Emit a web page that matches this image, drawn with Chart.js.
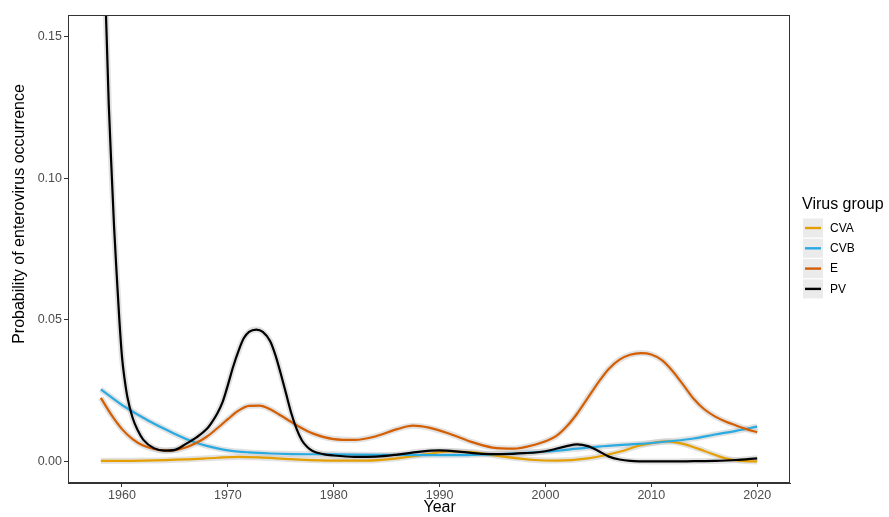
<!DOCTYPE html>
<html><head><meta charset="utf-8">
<script src="https://cdn.jsdelivr.net/npm/chart.js@4"></script>
<style>html,body{margin:0;padding:0;background:#fff}canvas{display:block}</style>
</head><body>
<canvas id="c" width="889" height="517"></canvas>
<script>
// ---- data ----
const xTicks = [1960, 1970, 1980, 1990, 2000, 2010, 2020];
const yTicks = [0, 0.05, 0.10, 0.15];
const seriesNames = ['CVA', 'CVB', 'E', 'PV'];

const cvaYears  = [1958, 1962, 1966, 1969, 1971, 1973, 1976, 1980, 1983, 1986, 1989, 1991, 1993, 1996, 1999, 2001, 2004, 2007, 2009, 2011.5, 2013, 2015, 2017, 2018.5, 2020];
const cvaValues = [0.0003, 0.0004, 0.0008, 0.0014, 0.0017, 0.0015, 0.0009, 0.0004, 0.0004, 0.0012, 0.0028, 0.0036, 0.0034, 0.0018, 0.0006, 0.0004, 0.0012, 0.0035, 0.0058, 0.0072, 0.0063, 0.0038, 0.0012, 0.0003, 0.0001];

const cvbYears  = [1958, 1960, 1961, 1962, 1963, 1964, 1965, 1966, 1967, 1968, 1969, 1970, 1972, 1974, 1976, 1980, 1985, 1990, 1995, 2000, 2003, 2005, 2008, 2010, 2012, 2014, 2016, 2018, 2020];
const cvbValues = [0.0255, 0.0200, 0.0177, 0.0155, 0.0135, 0.0116, 0.0098, 0.0081, 0.0067, 0.0056, 0.0047, 0.0040, 0.0033, 0.0029, 0.0027, 0.0026, 0.0024, 0.0023, 0.0026, 0.0036, 0.0046, 0.0053, 0.0061, 0.0066, 0.0073, 0.0082, 0.0096, 0.0109, 0.0124];

const eYears  = [1958, 1959, 1960, 1961, 1962, 1963, 1964, 1965, 1966, 1967, 1968, 1969, 1970, 1971, 1972, 1973, 1974, 1975, 1976, 1977, 1978, 1980, 1982, 1984, 1986, 1987.5, 1989, 1991, 1993, 1995, 1997, 1999, 2000, 2001, 2002, 2003, 2004, 2005, 2006, 2007, 2008, 2009, 2010, 2011, 2012, 2013, 2014, 2015, 2016, 2017, 2018, 2019, 2020];
const eValues = [0.0225, 0.0165, 0.0115, 0.0080, 0.0057, 0.0045, 0.0040, 0.0041, 0.0050, 0.0066, 0.0088, 0.0118, 0.0150, 0.0180, 0.0197, 0.0198, 0.0185, 0.0163, 0.0140, 0.0118, 0.0100, 0.0080, 0.0077, 0.0090, 0.0115, 0.0127, 0.0120, 0.0098, 0.0070, 0.0050, 0.0046, 0.0060, 0.0072, 0.0090, 0.0124, 0.0170, 0.0225, 0.0280, 0.0328, 0.0360, 0.0377, 0.0383, 0.0378, 0.0358, 0.0320, 0.0272, 0.0222, 0.0185, 0.0160, 0.0142, 0.0128, 0.0115, 0.0104];

const pvYears  = [1958, 1958.5, 1958.75, 1959, 1959.25, 1959.5, 1959.75, 1960, 1960.25, 1960.5, 1961, 1961.5, 1962, 1963, 1964, 1965, 1966, 1967, 1968, 1968.5, 1969, 1969.5, 1970, 1970.5, 1971, 1971.5, 1972, 1972.7, 1973.3, 1974, 1974.5, 1975, 1975.5, 1976, 1976.5, 1977, 1977.5, 1978, 1979, 1980, 1982, 1984, 1986, 1988, 1990, 1992, 1994, 1996, 1998, 2000, 2002, 2003, 2004, 2005, 2006, 2007, 2008, 2010, 2012, 2014, 2016, 2018, 2020];
const pvValues = [0.235, 0.156, 0.126, 0.104, 0.083, 0.066, 0.050, 0.037, 0.029, 0.023, 0.0155, 0.0110, 0.0078, 0.0048, 0.0039, 0.0042, 0.0062, 0.0085, 0.0115, 0.0140, 0.0170, 0.0210, 0.0270, 0.0335, 0.0390, 0.0435, 0.0458, 0.0466, 0.0458, 0.0425, 0.0375, 0.0310, 0.0240, 0.0170, 0.0115, 0.0075, 0.0052, 0.0038, 0.0027, 0.0022, 0.0017, 0.0018, 0.0025, 0.0035, 0.0040, 0.0035, 0.0028, 0.0027, 0.0030, 0.0037, 0.0055, 0.0061, 0.0055, 0.0038, 0.0018, 0.0008, 0.0003, 0.0001, 0.0001, 0.0002, 0.0003, 0.0006, 0.0012];

// ---- styling ----
const colors = {CVA: '#E69F00', CVB: '#29ABE2', E: '#D55E00', PV: '#000000'};
const FONT = '"Liberation Sans", Arial, Helvetica, sans-serif';

function pts(xs, ys) { return xs.map((x, i) => ({x: x, y: ys[i]})); }
const seriesData = {
  CVA: pts(cvaYears, cvaValues),
  CVB: pts(cvbYears, cvbValues),
  E: pts(eYears, eValues),
  PV: pts(pvYears, pvValues)
};

const datasets = [];
const drawOrder = {PV: 1, E: 2, CVB: 3, CVA: 4};
seriesNames.forEach(name => {
  datasets.push({
    label: name + ' band', data: seriesData[name], borderColor: 'rgba(190,190,190,0.45)',
    borderWidth: 6, pointRadius: 0, cubicInterpolationMode: 'monotone', clip: 0, order: 10, fill: false
  });
});
seriesNames.forEach(name => {
  datasets.push({
    label: name, data: seriesData[name], borderColor: colors[name],
    borderWidth: 2.2, pointRadius: 0, cubicInterpolationMode: 'monotone', clip: 0, order: drawOrder[name], fill: false
  });
});

const decor = {
  id: 'decor',
  afterDraw(chart) {
    const ctx = chart.ctx, a = chart.chartArea;
    ctx.save();
    ctx.strokeStyle = '#333333';
    ctx.lineWidth = 1;
    ctx.strokeRect(a.left + 0.5, a.top + 0.5, a.right - a.left - 1, a.bottom - a.top - 1);
    ctx.fillStyle = '#000';
    ctx.font = '16px ' + FONT;
    ctx.textAlign = 'center';
    ctx.textBaseline = 'middle';
    ctx.fillText('Year', chart.scales.x.getPixelForValue(1990), 508);
    ctx.save();
    ctx.translate(20, 214);
    ctx.rotate(-Math.PI / 2);
    ctx.fillText('Probability of enterovirus occurrence', 0, 0);
    ctx.restore();
    ctx.textAlign = 'left';
    ctx.font = '16px ' + FONT;
    ctx.fillText('Virus group', 802, 205);
    ctx.font = '12px ' + FONT;
    seriesNames.forEach((name, i) => {
      const cy = 228 + i * 20.3;
      ctx.fillStyle = '#EBEBEB';
      ctx.fillRect(803, cy - 9.5, 20, 19);
      ctx.strokeStyle = colors[name];
      ctx.lineWidth = 2.4;
      ctx.beginPath();
      ctx.moveTo(805, cy);
      ctx.lineTo(821, cy);
      ctx.stroke();
      ctx.fillStyle = '#000';
      ctx.fillText(name, 830, cy + 0.5);
    });
    ctx.restore();
  }
};

new Chart(document.getElementById('c'), {
  type: 'line',
  data: {datasets: datasets},
  options: {
    responsive: false,
    animation: false,
    layout: {padding: {left: 0, top: 15, right: 99, bottom: 0}},
    plugins: {legend: {display: false}, tooltip: {enabled: false}},
    scales: {
      x: {
        type: 'linear', min: 1954.9, max: 2023.1,
        afterBuildTicks: s => { s.ticks = xTicks.map(v => ({value: v})); },
        afterFit: s => { s.height = 34; },
        ticks: {color: '#4D4D4D', font: {family: FONT, size: 12.5}, padding: 1, maxRotation: 0,
                callback: v => String(v)},
        grid: {drawOnChartArea: false, drawTicks: true, tickLength: 4, color: '#333333'},
        border: {display: true, color: '#333333'}
      },
      y: {
        type: 'linear', min: -0.0075, max: 0.1575,
        afterBuildTicks: s => { s.ticks = yTicks.map(v => ({value: v})); },
        afterFit: s => { s.width = 68; },
        ticks: {color: '#4D4D4D', font: {family: FONT, size: 12.5}, padding: 2,
                callback: v => Number(v).toFixed(2)},
        grid: {drawOnChartArea: false, drawTicks: true, tickLength: 4, color: '#333333'},
        border: {display: true, color: '#333333'}
      }
    }
  },
  plugins: [decor]
});
</script>
</body></html>
